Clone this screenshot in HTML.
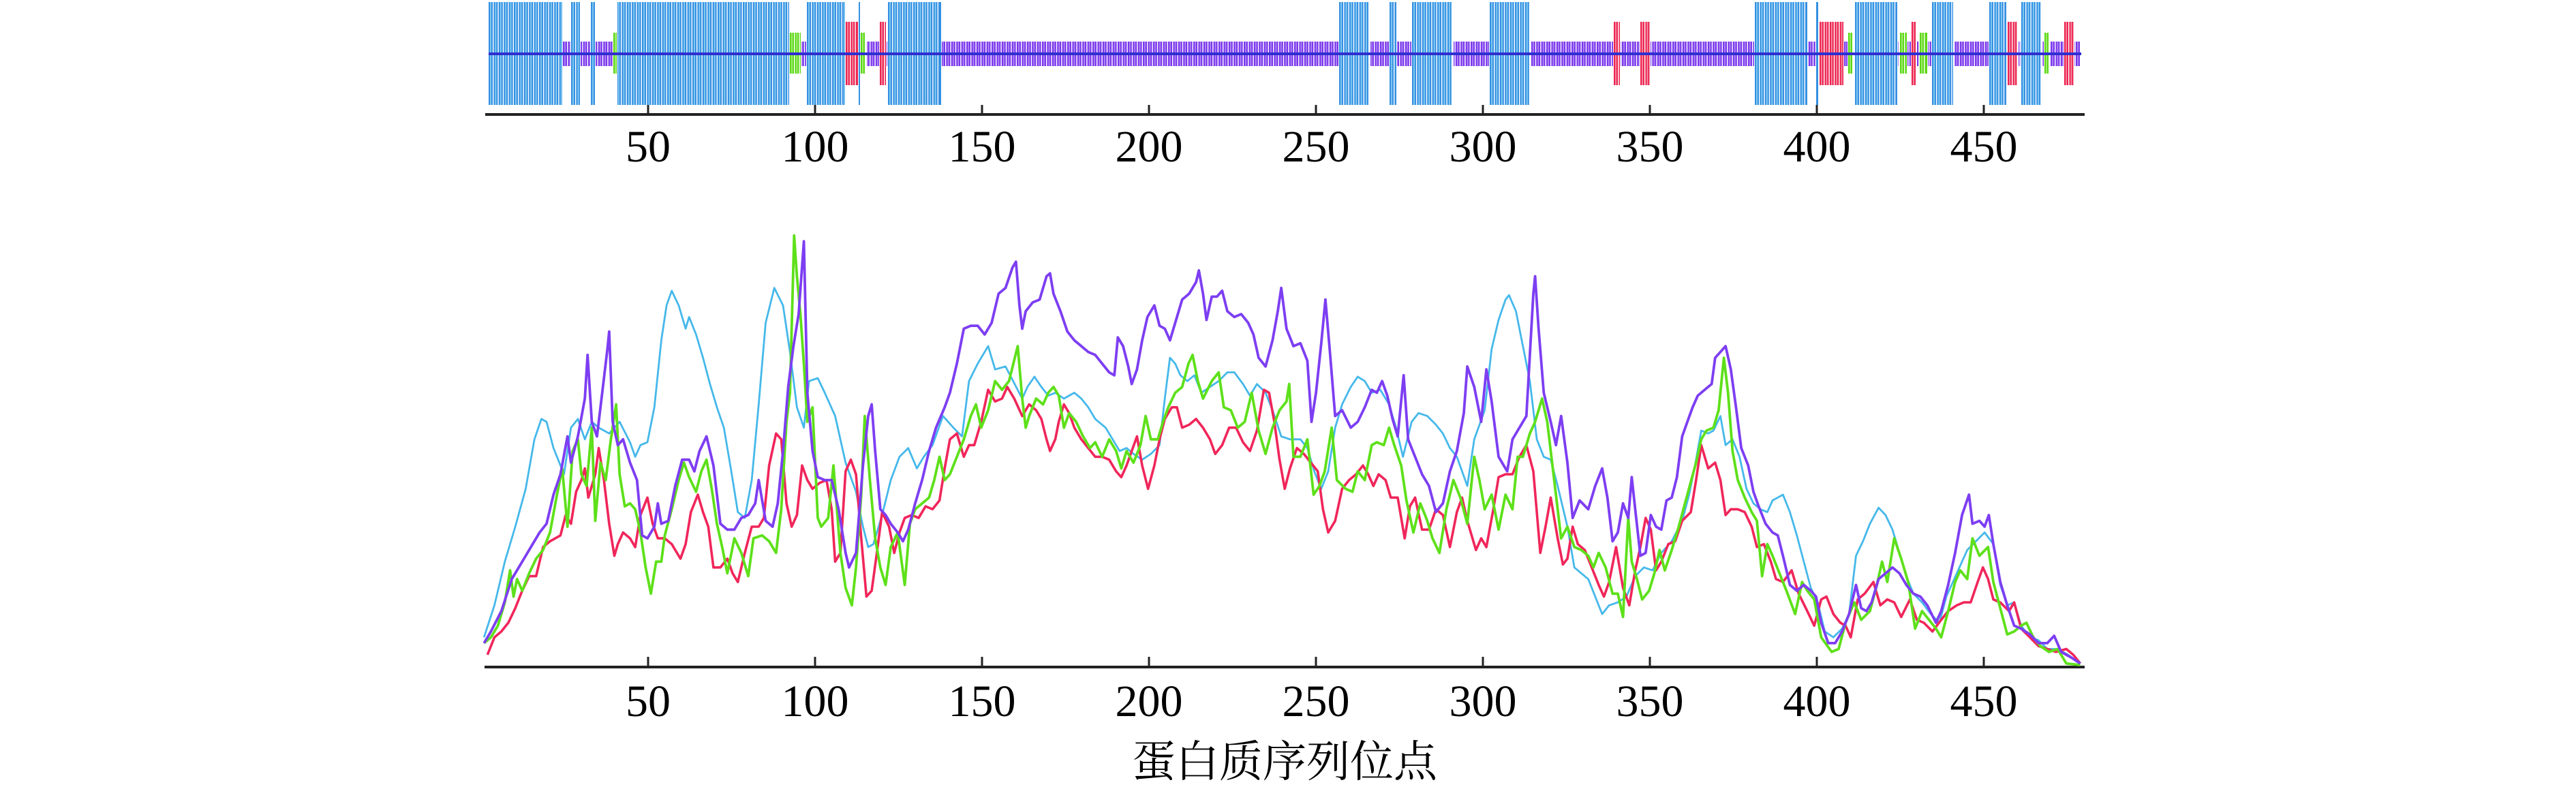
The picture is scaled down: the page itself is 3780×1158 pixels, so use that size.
<!DOCTYPE html>
<html><head><meta charset="utf-8"><style>
html,body{margin:0;padding:0;background:#fff;}
svg{display:block;}
text{font-family:"Liberation Serif","Noto Serif CJK SC",serif;fill:#000;}
</style></head><body>
<svg id="s" width="3780" height="1158" viewBox="0 0 3780 1158" xmlns="http://www.w3.org/2000/svg">
<rect width="3780" height="1158" fill="#fff"/>
<g id="bars"></g>
<rect x="717" y="77" width="2337" height="4" fill="#2f2fd0"/>
<rect x="712" y="166" width="2347" height="4" fill="#222"/>
<g stroke="#222" stroke-width="3">
<line x1="951" y1="154" x2="951" y2="168"/><line x1="1196" y1="154" x2="1196" y2="168"/><line x1="1441" y1="154" x2="1441" y2="168"/><line x1="1686" y1="154" x2="1686" y2="168"/><line x1="1931" y1="154" x2="1931" y2="168"/><line x1="2176" y1="154" x2="2176" y2="168"/><line x1="2421" y1="154" x2="2421" y2="168"/><line x1="2666" y1="154" x2="2666" y2="168"/><line x1="2911" y1="154" x2="2911" y2="168"/>
</g>
<g font-size="66" text-anchor="middle">
<text x="951" y="237">50</text><text x="1196" y="237">100</text><text x="1441" y="237">150</text><text x="1686" y="237">200</text><text x="1931" y="237">250</text><text x="2176" y="237">300</text><text x="2421" y="237">350</text><text x="2666" y="237">400</text><text x="2911" y="237">450</text>
</g>
<rect x="711" y="977" width="2348" height="4" fill="#222"/>
<g stroke="#222" stroke-width="3">
<line x1="951" y1="964" x2="951" y2="979"/><line x1="1196" y1="964" x2="1196" y2="979"/><line x1="1441" y1="964" x2="1441" y2="979"/><line x1="1686" y1="964" x2="1686" y2="979"/><line x1="1931" y1="964" x2="1931" y2="979"/><line x1="2176" y1="964" x2="2176" y2="979"/><line x1="2421" y1="964" x2="2421" y2="979"/><line x1="2666" y1="964" x2="2666" y2="979"/><line x1="2911" y1="964" x2="2911" y2="979"/>
</g>
<g font-size="66" text-anchor="middle">
<text x="951" y="1051">50</text><text x="1196" y="1051">100</text><text x="1441" y="1051">150</text><text x="1686" y="1051">200</text><text x="1931" y="1051">250</text><text x="2176" y="1051">300</text><text x="2421" y="1051">350</text><text x="2666" y="1051">400</text><text x="2911" y="1051">450</text>
</g>
<text x="1885" y="1140" font-size="64" text-anchor="middle" style='font-family:"Noto Serif CJK SC","Noto Sans CJK SC",serif'>蛋白质序列位点</text>
<g id="lines" fill="none" stroke-linejoin="round"></g>
</svg>
<script>
var NS="http://www.w3.org/2000/svg";
var bars=document.getElementById('bars');
function r(x,y,w,h,c){var e=document.createElementNS(NS,'rect');e.setAttribute('x',x);e.setAttribute('y',y);e.setAttribute('width',w);e.setAttribute('height',h);e.setAttribute('fill',c);bars.appendChild(e);}
var P=7.4;
var types={
 p:{y:61,h:36,c:'#7a38ec',l:'#b490f4'},
 b:{y:3,h:151,c:'#3590e2',l:'#8fd4f4'},
 g:{y:48,h:60,c:'#5cd816',l:'#b0ee88'},
 r:{y:32,h:93,c:'#ec2450',l:'#f59ab0'}
};
function seg(a,b,t,clear){var T=types[t];
 if(clear) r(a-1,0,b-a+2,160,'#fff');
 if(b-a<4){r(a,T.y,Math.max(2.5,b-a),T.h,T.c);return;}
 for(var x=a;x<b-1;x+=P){var w=Math.min(6,b-x);r(x,T.y,w,T.h,T.c);if(w>4)r(x+2.2,T.y,1.6,T.h,T.l);}
}
seg(826,3054,'p',false);
[[717,825],[838,851],[867,873],[905,1159],[1184,1240],[1259,1262],[1303,1381],[1965,2010],[2039,2049],[2072,2132],[2186,2246],[2575,2652],[2665,2668],[2722,2784],[2835,2866],[2919,2944],[2966,2996]].forEach(function(s){seg(s[0],s[1],'b',true);});
[[900,905],[1159,1175],[1263,1271],[2712,2720],[2788,2798],[2817,2828],[3000,3008]].forEach(function(s){seg(s[0],s[1],'g',true);});
[[1241,1259],[1291,1300],[2368,2377],[2407,2421],[2670,2705],[2805,2812],[2946,2961],[3029,3043]].forEach(function(s){seg(s[0],s[1],'r',true);});

var data={
z5:{x0:700,
c:"20,1440 50,1330 80,1180 110,1060 140,930 165,760 185,690 200,700 220,790 250,880 270,720 290,690 310,760 330,700 350,720 380,740 410,700 440,770 455,820 470,780 490,770 510,650 530,420 545,300 560,250 580,300 600,380 610,340 630,400 650,480 670,570 690,650 710,720 730,860 750,1010 770,1030 790,900 810,640 830,360 855,240 880,300 900,460 920,650 940,720 955,560 980,550 1000,600 1030,680 1060,840 1090,940 1110,1060 1125,1130 1140,1120 1165,1020 1190,900 1215,820 1240,790 1265,860 1285,820 1310,780 1340,680 1370,720 1395,750 1415,560 1440,500 1470,440 1490,520 1520,510 1568,620",
p:"20,1460 40,1420 70,1350 100,1240 130,1180 160,1120 180,1080 200,1050 220,950 240,880 260,750 270,840 290,750 310,620 318,470 330,700 345,750 360,600 375,450 380,390 390,700 405,780 420,760 440,840 460,900 475,1090 490,1100 510,1060 520,980 530,1050 550,1040 570,920 590,830 610,830 625,870 640,800 660,750 680,850 700,1050 720,1070 740,1070 760,1030 780,1020 800,980 810,900 830,1040 850,1060 865,980 880,800 895,580 910,440 925,330 940,80 950,600 965,800 980,890 1000,900 1020,900 1040,1000 1060,1150 1070,1200 1090,1150 1110,850 1125,680 1135,640 1145,800 1160,1000 1175,1020 1190,1050 1210,1080 1225,1110 1240,1070 1260,980 1280,900 1300,800 1320,720 1345,650 1360,600 1380,500 1400,380 1420,370 1440,370 1460,400 1480,360 1500,260 1520,240 1540,170 1550,150 1560,300 1568,380",
g:"20,1460 40,1440 60,1400 80,1320 95,1210 105,1300 115,1240 130,1280 150,1220 170,1170 190,1140 210,1080 230,950 245,860 260,1060 275,800 290,760 300,880 315,920 330,720 340,1040 355,840 370,900 385,760 400,640 410,880 425,990 440,980 455,1000 470,1080 485,1200 500,1290 515,1180 530,1180 540,1090 560,1000 580,900 595,840 610,890 630,940 645,870 660,830 675,930 690,1050 705,1130 720,1220 740,1100 760,1150 780,1230 795,1100 820,1090 840,1110 860,1150 875,1000 890,700 900,600 912,60 920,200 930,330 940,500 950,700 965,650 980,1030 990,1060 1010,1030 1025,850 1045,1150 1060,1270 1078,1330 1090,1200 1105,950 1115,680 1130,900 1145,1100 1160,1200 1175,1260 1190,1130 1210,1080 1230,1260 1245,1050 1260,1000 1280,980 1300,960 1315,900 1330,820 1345,900 1360,880 1380,820 1400,760 1420,680 1435,640 1450,720 1470,660 1490,560 1510,590 1530,560 1555,440 1568,620",
r:"30,1500 50,1440 70,1420 90,1390 110,1340 130,1280 150,1230 170,1230 190,1130 210,1110 240,1090 255,1020 270,1050 285,940 300,900 310,860 320,960 340,880 350,790 365,900 380,1050 395,1160 405,1120 420,1080 440,1100 455,1130 470,1020 490,960 505,1050 520,1100 540,1100 560,1120 585,1170 600,1120 615,1010 635,950 650,1010 665,1060 680,1200 700,1200 720,1170 735,1220 750,1250 770,1150 790,1060 810,1060 825,1030 840,850 860,740 875,760 890,980 905,1060 920,1020 935,850 950,900 965,930 985,910 1005,900 1020,1000 1030,1180 1045,1150 1060,870 1075,830 1090,880 1105,1100 1120,1300 1135,1280 1150,1150 1165,1010 1185,1060 1200,1150 1215,1080 1230,1030 1250,1020 1270,1030 1290,990 1310,1000 1330,970 1345,860 1360,760 1380,740 1400,820 1415,780 1430,780 1450,700 1470,590 1490,630 1510,620 1525,580 1545,620 1568,680"},
z6:{x0:1500,
p:"0,390 10,320 30,290 50,280 70,200 80,190 90,260 110,320 130,390 150,420 170,440 190,460 210,470 230,500 250,530 265,540 275,410 290,440 305,510 315,570 330,520 345,420 360,340 380,300 395,370 410,380 425,420 440,360 460,280 480,260 500,220 508,180 520,260 530,350 545,270 560,270 575,250 590,320 610,340 630,330 650,360 665,400 680,480 700,510 720,420 735,320 745,240 760,380 780,440 800,430 820,490 832,700 845,600 860,430 872,280 885,460 900,680 920,660 945,720 965,700 985,650 1005,590 1020,600 1035,560 1050,610 1065,690 1080,750 1097,540 1110,760 1130,820 1150,880 1170,920 1190,1010 1210,980 1230,870 1250,800 1270,670 1280,510 1300,580 1320,700 1335,520 1350,630 1370,820 1395,870 1410,760 1430,720 1450,680 1470,260 1475,200 1485,380 1500,600 1520,700 1535,780 1550,680 1568,840",
c:"0,630 15,580 35,545 55,580 75,610 95,600 120,620 150,600 170,620 190,650 210,690 240,720 260,760 280,800 300,790 320,810 345,830 370,810 395,780 410,620 425,480 440,500 455,540 475,560 495,540 515,600 540,580 565,560 590,530 610,530 635,570 655,610 675,570 700,600 720,660 745,750 770,760 800,760 820,790 840,870 860,930 880,870 900,720 920,640 945,580 965,545 985,560 1005,600 1030,590 1055,640 1075,720 1095,820 1120,700 1140,670 1165,680 1190,710 1210,740 1230,790 1250,820 1280,920 1300,760 1330,660 1350,450 1370,350 1390,280 1400,265 1420,320 1440,440 1460,560 1480,760 1500,820 1520,830 1540,920 1568,1060",
g:"0,570 10,720 20,680 40,620 60,640 75,600 90,580 105,610 120,720 135,670 155,700 175,750 195,790 210,770 230,820 250,760 270,800 285,860 300,800 320,840 340,780 355,680 370,760 390,760 405,700 420,650 440,600 460,580 478,500 490,470 505,560 520,620 545,560 565,530 580,650 600,660 620,720 640,700 660,600 680,730 700,810 720,720 740,660 760,630 768,570 780,820 800,820 820,760 838,950 855,920 870,870 890,720 905,900 930,930 950,940 965,870 985,900 1005,780 1020,770 1040,780 1055,720 1070,780 1090,850 1105,970 1125,1080 1145,980 1165,1040 1180,1100 1200,1150 1220,1000 1240,900 1260,960 1280,1050 1300,820 1315,900 1330,1000 1350,950 1370,1070 1390,950 1410,1000 1425,820 1440,820 1460,740 1475,700 1495,620 1510,700 1530,900 1550,1100 1568,1060",
r:"0,690 20,640 40,660 55,690 70,760 80,800 95,760 105,700 120,640 135,670 150,720 170,760 190,790 210,820 230,820 250,830 270,870 285,890 300,850 315,800 330,750 345,850 362,930 380,850 395,760 410,690 430,650 445,650 460,720 480,710 500,690 520,720 540,760 555,810 575,780 595,720 615,720 635,770 655,800 675,730 695,590 710,600 725,700 740,830 755,930 770,860 790,790 810,810 830,840 850,870 865,1000 880,1080 900,1040 920,930 940,900 960,880 980,850 995,880 1010,920 1025,880 1045,900 1060,960 1080,960 1100,1100 1115,990 1130,960 1150,1070 1170,1070 1190,1000 1210,1020 1230,1130 1250,1010 1265,960 1280,1040 1305,1140 1320,1100 1335,1130 1355,1000 1370,890 1390,880 1410,880 1430,820 1450,780 1470,870 1490,1150 1505,1060 1520,960 1540,1100 1555,1190 1568,1170"},
z7:{x0:2300,
p:"0,900 15,1030 35,970 60,1000 80,920 100,860 115,960 130,1110 145,1080 160,980 175,1030 185,890 195,1000 210,1160 225,1150 240,1020 255,1060 270,1070 285,970 300,960 315,890 330,750 345,700 360,650 375,610 395,590 415,570 425,480 440,460 455,440 470,520 485,650 500,790 520,850 535,940 550,990 570,1050 590,1080 605,1090 620,1160 640,1260 660,1280 680,1260 700,1280 715,1300 730,1390 750,1460 770,1460 790,1420 810,1360 830,1260 845,1340 860,1350 875,1320 895,1240 915,1220 935,1200 955,1220 975,1260 995,1290 1015,1300 1035,1330 1060,1390 1075,1350 1095,1260 1115,1150 1135,1020 1155,950 1165,1050 1185,1040 1200,1060 1212,1020 1225,1120 1245,1250 1265,1330 1285,1400 1305,1410 1330,1430 1355,1460 1380,1460 1400,1435 1420,1490 1450,1510 1475,1530",
c:"0,1130 20,1200 40,1220 60,1240 80,1300 100,1360 120,1330 145,1320 170,1300 195,1230 220,1200 245,1210 270,1150 300,1110 330,1040 350,950 370,830 385,730 405,740 420,730 440,680 455,780 475,760 495,820 515,930 535,980 555,1000 575,1010 590,970 605,960 620,950 640,1010 660,1090 680,1180 700,1270 720,1320 740,1420 765,1440 790,1410 810,1360 830,1160 850,1110 870,1050 895,995 915,1020 935,1070 955,1150 975,1230 995,1290 1020,1320 1045,1360 1070,1390 1090,1300 1120,1220 1150,1140 1175,1110 1200,1080 1225,1120 1245,1260 1265,1330 1285,1320 1305,1400 1330,1440 1355,1450 1380,1480 1410,1480 1440,1500 1475,1530",
g:"0,1170 20,1130 40,1140 60,1160 75,1200 90,1150 110,1200 130,1290 145,1290 160,1370 175,1030 185,1180 200,1240 215,1310 235,1280 250,1220 265,1140 280,1210 300,1140 320,1060 345,950 370,840 385,760 400,730 420,720 435,660 450,480 462,600 475,800 490,900 510,960 530,1010 545,1040 560,1230 575,1120 590,1160 610,1220 630,1280 655,1360 675,1250 690,1280 710,1310 730,1440 760,1490 780,1480 800,1390 825,1320 845,1380 870,1350 890,1260 905,1180 920,1250 940,1100 960,1170 980,1250 1000,1410 1020,1350 1040,1380 1060,1410 1075,1440 1095,1350 1115,1250 1130,1210 1150,1240 1165,1100 1185,1160 1210,1130 1225,1250 1245,1340 1265,1430 1285,1420 1305,1400 1320,1390 1340,1440 1360,1470 1385,1490 1410,1480 1435,1530 1475,1535",
r:"0,1080 15,1060 30,1120 50,1140 70,1200 90,1260 105,1300 120,1250 140,1130 160,1270 178,1330 195,1210 210,1130 225,1030 240,1070 255,1210 270,1180 290,1120 310,1110 330,1040 355,1010 370,900 385,780 405,860 425,840 440,900 455,1020 470,1000 490,1000 510,1010 530,1060 545,1130 565,1120 585,1180 600,1240 620,1250 645,1210 665,1290 690,1350 710,1400 730,1310 745,1300 765,1360 785,1390 800,1400 815,1440 835,1310 855,1290 880,1250 900,1330 920,1310 940,1320 960,1370 985,1310 1005,1380 1025,1390 1050,1420 1075,1380 1095,1350 1120,1330 1140,1320 1160,1320 1180,1250 1195,1200 1210,1240 1225,1310 1245,1320 1270,1350 1285,1320 1305,1410 1330,1440 1355,1470 1380,1480 1405,1490 1435,1480 1455,1500 1475,1530"}
};
var cols={c:['#45b8ea',2.8],p:['#7d3ef2',3.8],g:['#5ee01a',3.8],r:['#f0265a',3.6]};
var lines=document.getElementById('lines');
['c','r','g','p'].forEach(function(k){
 var pts=[];
 ['z5','z6','z7'].forEach(function(z){var d=data[z];
  d[k].split(' ').forEach(function(p){var a=p.split(',');var x=d.x0+(+a[0])/1.96, y=320+(+a[1])/2.34;
   if(pts.length){var last=pts[pts.length-1];if(x<=last[0])return;}
   pts.push([x,y]);});
 });
 var e=document.createElementNS(NS,'polyline');
 e.setAttribute('points',pts.map(function(p){return p[0].toFixed(1)+','+p[1].toFixed(1);}).join(' '));
 e.setAttribute('stroke',cols[k][0]);e.setAttribute('stroke-width',cols[k][1]);
 lines.appendChild(e);
});
</script>
</body></html>
